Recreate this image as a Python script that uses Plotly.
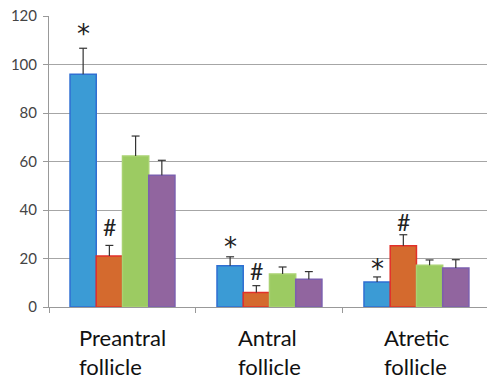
import plotly.graph_objects as go

categories = ["Preantral<br>follicle", "Antral<br>follicle", "Atretic<br>follicle"]
series_names = ["Group 1", "Group 2", "Group 3", "Group 4"]
values = [
    [96.0, 17.0, 10.3],
    [21.0, 6.0, 25.3],
    [62.3, 13.6, 17.2],
    [54.3, 11.4, 16.1],
]
errors = [
    [10.7, 3.7, 2.1],
    [4.4, 2.8, 4.5],
    [8.2, 2.9, 2.2],
    [6.2, 3.2, 3.4],
]
# significance markers: (category index, series index, symbol, y position)
markers = [
    (0, 0, "*", 114), (0, 1, "#", 33),
    (1, 0, "*", 26), (1, 1, "#", 15),
    (2, 0, "*", 17), (2, 1, "#", 35),
]
y_ticks = [0, 20, 40, 60, 80, 100, 120]

fills = ["#3b9bd5", "#d46a2e", "#9ccb62", "#91659f"]
outlines = ["#2f6fd2", "#e2302a", "#a9d272", "#7c5fae"]

n = len(series_names)
group_frac = 0.714
bar_w = group_frac / n
cap = 0.027

x_idx = list(range(len(categories)))
fig = go.Figure()
for i, name in enumerate(series_names):
    fig.add_trace(go.Bar(
        x=x_idx, y=values[i], name=name,
        marker=dict(color=fills[i], line=dict(color=outlines[i], width=1.5)),
    ))

# upper-only error whiskers with a cap at the top
for i in range(n):
    xs, ys = [], []
    for ci in x_idx:
        xc = ci - group_frac / 2 + bar_w * (i + 0.5)
        top = values[i][ci] + errors[i][ci]
        xs += [xc, xc, None, xc - cap, xc + cap, None]
        ys += [values[i][ci], top, None, top, top, None]
    fig.add_trace(go.Scatter(x=xs, y=ys, mode="lines", hoverinfo="skip",
                             line=dict(color="#333333", width=1.2)))

for ci, si, sym, yv in markers:
    xpos = ci - group_frac / 2 + bar_w * (si + 0.5)
    if sym == "*":
        font = dict(family="DejaVu Sans", size=26, color="#222222")
        yshift = -3
    else:
        font = dict(family="Lato, Liberation Sans", size=23, color="#222222")
        yshift = 0
    fig.add_annotation(x=xpos, y=yv, text=sym, showarrow=False, font=font,
                       xanchor="center", yanchor="middle", yshift=yshift)

for ci, label in enumerate(categories):
    fig.add_annotation(x=ci, y=-0.052, text=label, showarrow=False, align="left",
                       xanchor="center", yanchor="top", yref="paper",
                       font=dict(family="Lato, Liberation Sans", size=22, color="#111111"))

fig.update_layout(
    width=487, height=381,
    margin=dict(l=49, r=0, t=16, b=74),
    paper_bgcolor="white", plot_bgcolor="white",
    barmode="group", bargap=0.286, bargroupgap=0,
    showlegend=False,
    font=dict(family="Lato, Liberation Sans", size=14, color="#444444"),
)
fig.update_xaxes(range=[-0.5, 2.48], tickvals=[-0.5, 0.5, 1.5, 2.5], showticklabels=False,
                 ticks="outside", ticklen=5, tickcolor="#999999",
                 showline=True, linecolor="#999999", linewidth=1, showgrid=False,
                 zeroline=False)
fig.update_yaxes(range=[0, 120], tickvals=y_ticks, ticks="outside", ticklen=5,
                 tickcolor="#999999", showline=True, linecolor="#999999", linewidth=1,
                 showgrid=True, gridcolor="#a6a6a6", gridwidth=1, zeroline=False,
                 tickfont=dict(size=15, color="#444444"), ticklabelstandoff=3)

fig.write_html("out.html")
